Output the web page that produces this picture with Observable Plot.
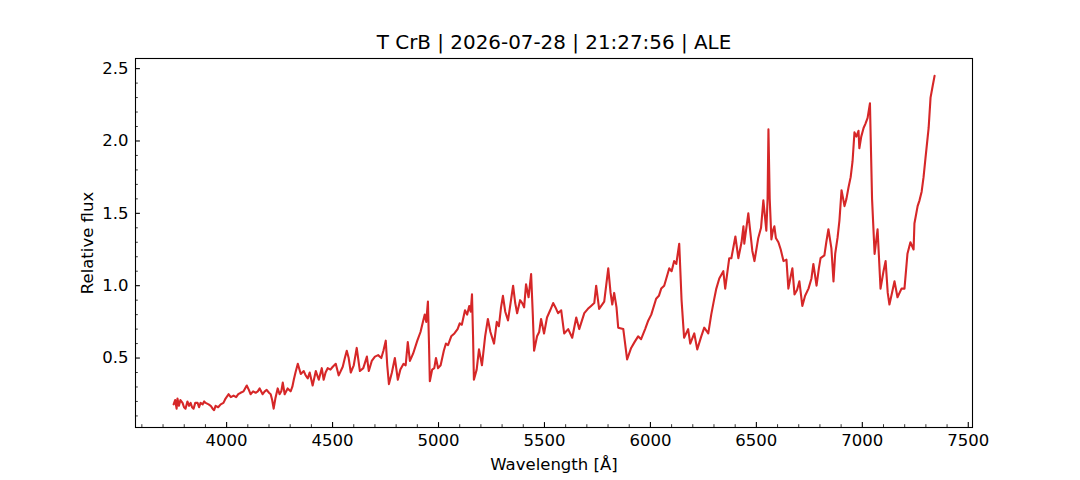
<!DOCTYPE html>
<html><head><meta charset="utf-8">
<script src="https://cdn.jsdelivr.net/npm/d3@7"></script>
<script src="https://cdn.jsdelivr.net/npm/@observablehq/plot@0.6"></script>
<style>body{margin:0;background:#fff}</style>
</head><body><div id="chart"></div>
<script>
const title = "T CrB | 2026-07-28 | 21:27:56 | ALE";
const xLabel = "Wavelength [Å]";
const yLabel = "Relative flux";
const xMajorTicks = [4000, 4500, 5000, 5500, 6000, 6500, 7000, 7500];
const xMinorTicks = [3600,3700,3800,3900,4100,4200,4300,4400,4600,4700,4800,4900,5100,5200,5300,5400,5600,5700,5800,5900,6100,6200,6300,6400,6600,6700,6800,6900,7100,7200,7300,7400];
const yMajorTicks = [0.5, 1.0, 1.5, 2.0, 2.5];
const yMinorTicks = [0.1,0.2,0.3,0.4,0.6,0.7,0.8,0.9,1.1,1.2,1.3,1.4,1.6,1.7,1.8,1.9,2.1,2.2,2.3,2.4];

const wavelength = [3750,3757,3764,3768,3775,3782,3792,3799,3806,3815,3823,3830,3837,3844,3852,3863,3870,3877,3887,3894,3901,3915,3925,3934,3941,3948,3960,3972,3985,3995,
4009,4020,4033,4045,4055,4066,4080,4095,4105,4113,4125,4137,4147,4156,4170,4180,4189,4200,4208,4215,4222,4230,4241,4250,4258,4265,4274,4288,4302,4310,
4317,4325,4336,4350,4364,4373,4383,4392,4406,4421,4435,4449,4458,4467,4477,4490,4501,4515,4529,4548,4558,4567,4576,4586,4600,4614,4629,4645,4662,4671,
4685,4700,4715,4730,4740,4751,4758,4766,4780,4794,4808,4820,4835,4845,4855,4865,4880,4900,4915,4928,4935,4942,4950,4955,4959,4970,4980,4988,4998,5010,
5025,5035,5045,5060,5075,5090,5100,5110,5125,5135,5145,5152,5158,5163,5167,5180,5191,5205,5220,5233,5245,5262,5275,5285,5295,5304,5315,5328,5340,5352,
5362,5371,5385,5395,5404,5413,5425,5437,5445,5451,5465,5475,5484,5498,5512,5527,5541,5552,5564,5579,5593,5612,5631,5650,5664,5688,5705,5720,5735,5744,
5758,5782,5801,5812,5820,5829,5840,5848,5872,5890,5909,5925,5942,5956,5975,5990,6004,6027,6040,6051,6065,6075,6089,6100,6112,6122,6136,6147,6159,6178,
6188,6207,6221,6240,6254,6273,6287,6300,6311,6325,6344,6353,6372,6382,6401,6415,6430,6439,6443,6462,6481,6491,6509,6522,6533,6547,6553,6557,6563,6571,
6578,6585,6592,6604,6615,6628,6642,6651,6660,6670,6680,6692,6703,6717,6730,6746,6760,6769,6784,6795,6803,6821,6830,6840,6854,6864,6872,6883,6892,6902,
6916,6925,6935,6945,6954,6963,6972,6982,6986,6995,7006,7015,7025,7036,7046,7058,7072,7086,7100,7110,7120,7128,7140,7152,7166,7185,7199,7213,7227,7242,
7246,7261,7270,7280,7289,7298,7313,7322,7332,7341];

const flux = [0.18,0.21,0.15,0.22,0.17,0.21,0.19,0.16,0.15,0.20,0.17,0.19,0.16,0.15,0.19,0.19,0.16,0.19,0.18,0.20,0.19,0.18,0.17,0.15,0.14,0.17,0.16,0.18,0.19,0.22,
0.25,0.23,0.24,0.23,0.25,0.26,0.27,0.31,0.28,0.25,0.27,0.26,0.27,0.29,0.25,0.27,0.28,0.26,0.25,0.21,0.15,0.22,0.29,0.25,0.27,0.33,0.25,0.29,0.27,0.30,
0.35,0.40,0.46,0.39,0.41,0.38,0.36,0.40,0.31,0.41,0.35,0.43,0.35,0.40,0.43,0.42,0.44,0.46,0.38,0.44,0.50,0.55,0.50,0.40,0.45,0.57,0.41,0.43,0.51,0.41,
0.48,0.51,0.52,0.50,0.55,0.62,0.45,0.32,0.40,0.50,0.35,0.42,0.46,0.45,0.61,0.48,0.53,0.62,0.68,0.76,0.80,0.75,0.89,0.60,0.34,0.42,0.43,0.50,0.43,0.45,
0.55,0.60,0.59,0.65,0.67,0.70,0.74,0.73,0.83,0.80,0.86,0.82,0.94,0.65,0.35,0.42,0.56,0.45,0.65,0.77,0.68,0.60,0.75,0.72,0.85,0.93,0.82,0.76,0.88,1.00,
0.88,0.81,0.90,0.88,0.85,1.01,0.92,1.08,0.80,0.55,0.65,0.68,0.77,0.67,0.78,0.83,0.88,0.85,0.81,0.83,0.67,0.70,0.64,0.78,0.70,0.81,0.84,0.86,0.88,1.00,
0.84,0.89,1.12,0.95,0.87,0.95,0.85,0.71,0.70,0.49,0.57,0.61,0.65,0.63,0.70,0.76,0.80,0.91,0.93,0.98,1.00,1.05,1.12,1.10,1.17,1.15,1.29,0.90,0.64,0.70,
0.60,0.67,0.56,0.65,0.71,0.67,0.80,0.90,0.98,1.05,1.10,0.98,1.19,1.19,1.34,1.19,1.30,1.41,1.29,1.50,1.24,1.17,1.33,1.40,1.59,1.38,1.60,2.08,1.60,1.32,
1.38,1.41,1.33,1.30,1.25,1.17,1.18,0.98,1.05,1.12,0.94,0.97,1.03,0.86,0.93,0.98,1.05,1.15,1.00,1.12,1.19,1.21,1.30,1.39,1.26,1.03,1.22,1.33,1.45,1.66,
1.55,1.60,1.68,1.75,1.86,2.06,2.03,2.07,1.95,2.03,2.09,2.12,2.16,2.26,1.60,1.22,1.39,0.98,1.10,1.17,0.95,0.87,0.95,1.03,0.92,0.98,0.98,1.22,1.30,1.25,
1.43,1.55,1.59,1.65,1.75,1.88,2.09,2.30,2.38,2.45];

const data = wavelength.map((w, i) => ({w, f: flux[i]}));
const font = "'DejaVu Sans', sans-serif";
const tickFont = 16.5;

const chart = Plot.plot({
  width: 1080, height: 480,
  marginLeft: 135, marginRight: 108, marginTop: 58, marginBottom: 53,
  style: {fontFamily: font, fontSize: tickFont + "px", color: "#000", background: "#fff"},
  x: {domain: [3570, 7520]},
  y: {domain: [0.02, 2.57]},
  marks: [
    Plot.line(data, {x: "w", y: "f", stroke: "#d62728", strokeWidth: 2.1, strokeLinejoin: "round"}),
    Plot.frame({stroke: "#000", strokeWidth: 1.1}),
    Plot.axisX(xMajorTicks, {tickSize: 0, tickPadding: 7, tickFormat: d => String(d), fontSize: tickFont, label: null}),
    Plot.axisX(xMajorTicks, {tickSize: -4.9, text: null, label: null, strokeWidth: 1.1}),
    Plot.axisX(xMinorTicks, {tickSize: -2.8, text: null, label: null, strokeWidth: 0.8}),
    Plot.axisY(yMajorTicks, {tickSize: 0, tickPadding: 7, tickFormat: d => d.toFixed(1), fontSize: tickFont, label: null}),
    Plot.axisY(yMajorTicks, {tickSize: -4.9, text: null, label: null, strokeWidth: 1.1}),
    Plot.axisY(yMinorTicks, {tickSize: -2.8, text: null, label: null, strokeWidth: 0.8}),
    Plot.text([title], {text: d => d, frameAnchor: "top", lineAnchor: "middle", dy: -16, fontSize: 19.9, fill: "#000"}),
    Plot.text([xLabel], {text: d => d, frameAnchor: "bottom", lineAnchor: "middle", dy: 37, fontSize: tickFont, fill: "#000"}),
    Plot.text([yLabel], {text: d => d, frameAnchor: "left", textAnchor: "middle", lineAnchor: "middle", dx: -48, rotate: -90, fontSize: tickFont, fill: "#000"})
  ]
});
document.getElementById("chart").append(chart);
</script>
</body></html>
